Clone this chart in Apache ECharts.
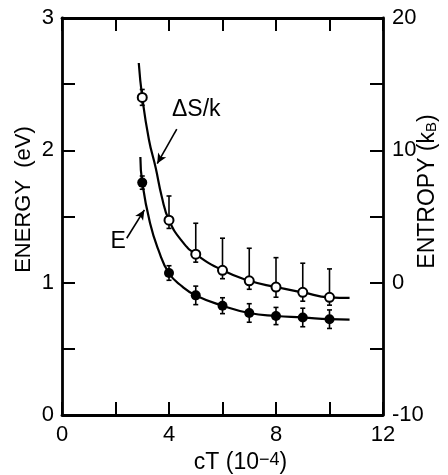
<!DOCTYPE html>
<html>
<head>
<meta charset="utf-8">
<script src="https://cdn.jsdelivr.net/npm/echarts@6/dist/echarts.min.js"></script>
<style>
  html, body { margin: 0; padding: 0; background: #fff; }
  #chart { width: 448px; height: 475px; }
</style>
</head>
<body>
<div id="chart"></div>
<script>
// Measured points: concentration cT (10^-4)
const cT = [3, 4, 5, 6, 7, 8, 9, 10];

// Formation energy E (eV), filled circles, with symmetric error
const energy = [1.756, 1.073, 0.904, 0.826, 0.771, 0.748, 0.737, 0.724];
const energyErr = [0.05, 0.055, 0.07, 0.06, 0.07, 0.065, 0.07, 0.07];

// Entropy ΔS/k (k_B), open circles, with asymmetric error
const entropy = [14.0, 4.72, 2.15, 0.93, 0.14, -0.33, -0.73, -1.11];
const entropyUpper = [14.6, 6.55, 4.49, 3.36, 2.6, 1.89, 1.47, 1.04];
const entropyLower = [13.4, 4.1, 1.55, 0.3, -0.5, -1.1, -1.4, -1.7];

// Fitted curves through the data
const fitEX = [2.93, 3.0, 3.29, 3.6, 4.0, 4.5, 5, 6, 7, 8, 9, 10, 10.75];
const fitE = [1.95, 1.756, 1.45, 1.25, 1.071, 0.97, 0.903, 0.826, 0.771, 0.748, 0.737, 0.724, 0.72];
const fitSX = [2.87, 3.0, 3.25, 3.5, 3.73, 4.0, 4.5, 5, 6, 7, 8, 9, 10, 10.75];
const fitS = [16.6, 14.0, 10.8, 8.7, 6.5, 4.72, 3.1, 2.15, 0.93, 0.14, -0.33, -0.73, -1.11, -1.15];

// Axis tick labels
const xTickLabels = [0, 4, 8, 12];
const energyTickLabels = [0, 1, 2, 3];
const entropyTickLabels = [-10, 0, 10, 20];

const FONT = "'Liberation Sans', Arial, Helvetica, sans-serif";
const INK = '#000';

const zip = (xs, ys) => xs.map((x, i) => [x, ys[i]]);

function errorBars(points, yAxisIndex) {
  return {
    type: 'custom',
    yAxisIndex: yAxisIndex,
    z: 3,
    silent: true,
    data: points,
    renderItem: function (params, api) {
      const x = api.value(0);
      const top = api.coord([x, api.value(1)]);
      const bot = api.coord([x, api.value(2)]);
      const cap = 2.5;
      const style = { stroke: INK, lineWidth: 1.6 };
      return {
        type: 'group',
        children: [
          { type: 'line', shape: { x1: top[0], y1: top[1], x2: bot[0], y2: bot[1] }, style },
          { type: 'line', shape: { x1: top[0] - cap, y1: top[1], x2: top[0] + cap, y2: top[1] }, style },
          { type: 'line', shape: { x1: bot[0] - cap, y1: bot[1], x2: bot[0] + cap, y2: bot[1] }, style }
        ]
      };
    }
  };
}

const chart = echarts.init(document.getElementById('chart'), null, { renderer: 'canvas' });

const frameLine = { show: true, onZero: false, lineStyle: { color: INK, width: 2.8 } };
const innerTick = { show: true, inside: true, length: 13, lineStyle: { color: INK, width: 2 } };

chart.setOption({
  animation: false,
  backgroundColor: '#fff',
  textStyle: { fontFamily: FONT, color: INK },
  grid: { left: 62, right: 65, top: 18, bottom: 60, containLabel: false, outerBoundsMode: 'none' },
  xAxis: [
    {
      type: 'value', min: 0, max: 12, interval: 2, position: 'bottom',
      axisLine: frameLine, axisTick: innerTick, splitLine: { show: false },
      axisLabel: {
        margin: 9, fontSize: 22, color: INK, fontFamily: FONT,
        showMinLabel: true, showMaxLabel: true,
        formatter: v => (xTickLabels.includes(v) ? String(v) : '')
      },
      name: 'cT (10{sup|−4})',
      nameLocation: 'middle', nameGap: 36,
      nameTextStyle: {
        fontSize: 23, color: INK, fontFamily: FONT, padding: [0, 0, 0, 36],
        rich: { sup: { fontSize: 18, fontFamily: FONT, color: INK, verticalAlign: 'top', padding: [0, 0, 6, 0] } }
      }
    },
    {
      type: 'value', min: 0, max: 12, interval: 2, position: 'top',
      axisLine: frameLine, axisTick: innerTick, axisLabel: { show: false }, splitLine: { show: false }
    }
  ],
  yAxis: [
    {
      type: 'value', min: 0, max: 3, interval: 0.5, position: 'left',
      axisLine: frameLine, axisTick: innerTick, splitLine: { show: false },
      axisLabel: {
        margin: 8, fontSize: 22, color: INK, fontFamily: FONT,
        showMinLabel: true, showMaxLabel: true,
        formatter: v => (energyTickLabels.includes(v) ? String(v) : '')
      },
      name: 'ENERGY  (eV)',
      nameLocation: 'middle', nameRotate: 90, nameGap: 27, nameMoveOverlap: false,
      nameTextStyle: { fontSize: 22, color: INK, fontFamily: FONT, padding: [0, 0, 0, 34] }
    },
    {
      type: 'value', min: -10, max: 20, interval: 5, position: 'right',
      axisLine: frameLine, axisTick: innerTick, splitLine: { show: false },
      axisLabel: {
        margin: 9, fontSize: 22, color: INK, fontFamily: FONT,
        showMinLabel: true, showMaxLabel: true,
        formatter: v => (entropyTickLabels.includes(v) ? String(v) : '')
      },
      name: 'ENTROPY (k{sub|B})',
      nameLocation: 'middle', nameRotate: 90, nameGap: 33, nameMoveOverlap: false,
      nameTextStyle: {
        fontSize: 23, color: INK, fontFamily: FONT, padding: [0, 0, 0, 50],
        rich: { sub: { fontSize: 15, fontFamily: FONT, color: INK, verticalAlign: 'bottom', padding: [8, 0, 0, 0] } }
      }
    }
  ],
  series: [
    {
      name: 'E fit', type: 'line', yAxisIndex: 0, z: 2,
      data: zip(fitEX, fitE), smooth: 0.5,
      showSymbol: false, lineStyle: { color: INK, width: 2.2 },
      markLine: {
        silent: true, symbol: ['none', 'arrow'], symbolSize: [7, 10], precision: 3,
        lineStyle: { color: INK, width: 1.6, type: 'solid' },
        label: { show: false },
        data: [
          [{ coord: [4.29, 2.16] }, { coord: [3.56, 1.9] }],
          [{ coord: [2.42, 1.336] }, { coord: [3.08, 1.55] }]
        ]
      },
      markPoint: {
        silent: true, symbol: 'circle', symbolSize: 0,
        label: { show: true, position: 'inside', formatter: '{b}', fontSize: 23, color: INK, fontFamily: FONT },
        data: [
          { name: 'ΔS/k', coord: [5.02, 2.31] },
          { name: 'E', coord: [2.1, 1.31] }
        ]
      }
    },
    {
      name: 'ΔS fit', type: 'line', yAxisIndex: 1, z: 2,
      data: zip(fitSX, fitS), smooth: 0.5,
      showSymbol: false, lineStyle: { color: INK, width: 2.2 }
    },
    errorBars(cT.map((x, i) => [x, energy[i] + energyErr[i], energy[i] - energyErr[i]]), 0),
    errorBars(cT.map((x, i) => [x, entropyUpper[i], entropyLower[i]]), 1),
    {
      name: 'E', type: 'scatter', yAxisIndex: 0, z: 5,
      data: zip(cT, energy), symbol: 'circle', symbolSize: 10,
      itemStyle: { color: INK, opacity: 1 }
    },
    {
      name: 'ΔS/k', type: 'scatter', yAxisIndex: 1, z: 5,
      data: zip(cT, entropy), symbol: 'circle', symbolSize: 9,
      itemStyle: { color: '#fff', borderColor: INK, borderWidth: 2, opacity: 1 }
    }
  ]
});
</script>
</body>
</html>
